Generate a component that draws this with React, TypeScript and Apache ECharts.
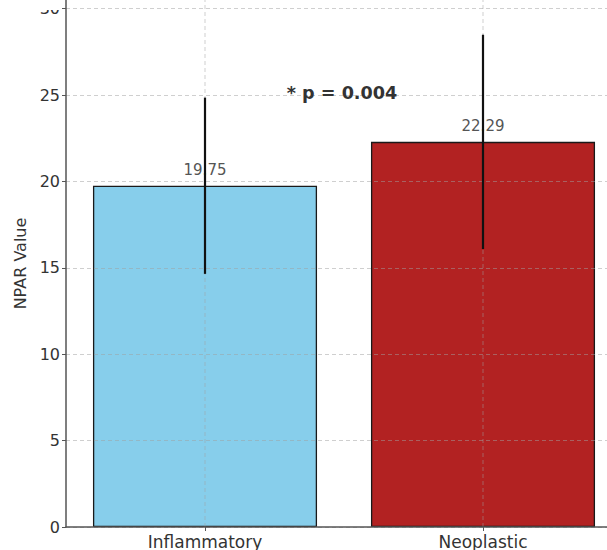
import React, { useEffect, useRef } from "react";
import * as echarts from "echarts";

const categories = ["Inflammatory", "Neoplastic"];
const means = [19.75, 22.29];
const errors = [5.1, 6.2];
const barColors = ["#87CEEB", "#B22222"];
const yMin = 0;
const yMax = 30.5;
const yInterval = 5;
const pText = "* p = 0.004";
const pValueY = 25.1;
const yAxisName = "NPAR Value";

export default function App() {
  const ref = useRef<HTMLDivElement | null>(null);

  useEffect(() => {
    if (!ref.current) return;
    const chart = echarts.init(ref.current, undefined, { renderer: "svg" });
    const font = "DejaVu Sans";
    const gridLine = { color: "rgba(160,160,160,0.5)", type: [4, 3] as any, width: 1 };

    chart.setOption({
      animation: false,
      textStyle: { fontFamily: font },
      grid: { left: 66, right: 8, top: 0, bottom: 22, containLabel: false },
      xAxis: {
        type: "category",
        data: categories,
        z: 4,
        axisLine: { show: true, lineStyle: { color: "#555", width: 1.5 } },
        axisTick: { show: true, alignWithLabel: true, length: 4, lineStyle: { color: "#555" } },
        axisLabel: { fontSize: 17, color: "#333", margin: 6, fontFamily: font },
        splitLine: { show: false },
      },
      yAxis: {
        type: "value",
        min: yMin,
        max: yMax,
        interval: yInterval,
        z: 4,
        name: yAxisName,
        nameLocation: "middle",
        nameGap: 36,
        nameTextStyle: { fontSize: 16, color: "#333", fontFamily: font },
        axisLine: { show: true, lineStyle: { color: "#555", width: 1.5 } },
        axisTick: { show: true, length: 4, lineStyle: { color: "#555" } },
        axisLabel: { fontSize: 16, color: "#333", margin: 6, showMaxLabel: false, fontFamily: font },
        splitLine: { show: true, showMaxLine: false, lineStyle: gridLine },
      },
      series: [
        {
          type: "bar",
          z: 2,
          barWidth: "80.6%",
          data: means.map((m, i) => ({
            value: m,
            itemStyle: { color: barColors[i], borderColor: "#1a1a1a", borderWidth: 1.3 },
          })),
          label: {
            show: true,
            position: "top",
            distance: 8,
            fontSize: 15,
            color: "#555",
            fontFamily: font,
            formatter: (p: any) => Number(p.value).toFixed(2),
          },
        },
        {
          type: "custom",
          z: 3,
          silent: true,
          data: categories.map((_, i) => [i, yMin, yMax]),
          encode: { x: 0, y: [1, 2] },
          renderItem: (params: any, api: any) => {
            const a = api.coord([api.value(0), api.value(1)]);
            const b = api.coord([api.value(0), api.value(2)]);
            return {
              type: "line",
              shape: { x1: a[0], y1: a[1], x2: b[0], y2: b[1] },
              style: { stroke: "rgba(160,160,160,0.5)", lineWidth: 1, lineDash: [4, 3] },
            };
          },
        },
        {
          type: "custom",
          z: 5,
          silent: true,
          data: means.map((m, i) => [i, m - errors[i], m + errors[i]]),
          encode: { x: 0, y: [1, 2] },
          renderItem: (params: any, api: any) => {
            const a = api.coord([api.value(0), api.value(1)]);
            const b = api.coord([api.value(0), api.value(2)]);
            return {
              type: "line",
              shape: { x1: a[0], y1: a[1], x2: b[0], y2: b[1] },
              style: { stroke: "#111", lineWidth: 2.2 },
            };
          },
        },
      ],
    });

    const p0 = chart.convertToPixel({ gridIndex: 0 }, [0, pValueY]) as number[];
    const p1 = chart.convertToPixel({ gridIndex: 0 }, [1, pValueY]) as number[];
    chart.setOption({
      graphic: [
        {
          type: "text",
          x: (p0[0] + p1[0]) / 2 - 2,
          y: p0[1],
          z: 10,
          style: {
            text: pText,
            fontSize: 17.6,
            fontWeight: "bold",
            fontFamily: font,
            fill: "#333",
            align: "center",
            verticalAlign: "middle",
          },
        },
        {
          type: "rect",
          x: 0,
          y: 0,
          z: 10,
          shape: { width: 62, height: 10 },
          style: { fill: "#fff" },
        },
      ],
    });

    return () => chart.dispose();
  }, []);

  return (
    <div
      style={{
        position: "absolute",
        left: 0,
        top: 0,
        width: 607,
        height: 550,
        overflow: "hidden",
      }}
    >
      <div ref={ref} style={{ width: 630, height: 550 }} />
    </div>
  );
}
